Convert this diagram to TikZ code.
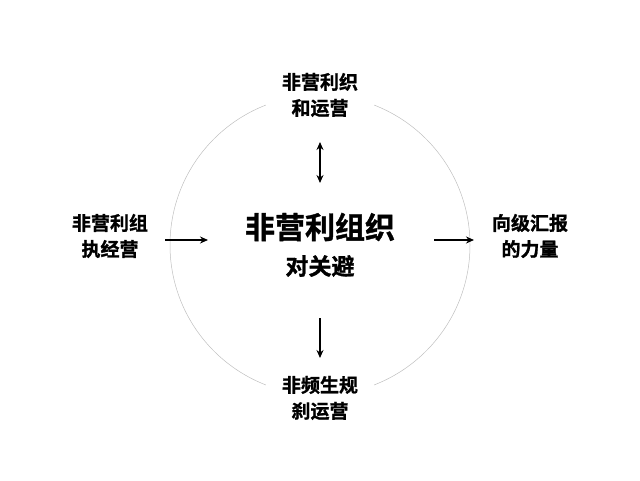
\documentclass[tikz,border=0pt]{standalone}
\usepackage{fontspec}
\newfontfamily\bfc{Noto Sans CJK SC Bold}[FakeBold=1.2]
\usetikzlibrary{arrows.meta}
\begin{document}
\begin{tikzpicture}[x=1pt,y=-1pt,
  lbl/.style={fill=white,inner xsep=16pt,inner ysep=8pt,align=center,font=\bfc\fontsize{19}{26}\selectfont},
  arr/.style={-{Stealth[length=8pt,width=7pt]},line width=1.4pt}]
\useasboundingbox (0,0) rectangle (640,480);
\draw[gray!50,line width=0.5pt] (320,245) circle (150);
\node[lbl] (top) at (320,95) {非营利织\\和运营};
\node[lbl] (bot) at (320,398) {非频生规\\刹运营};
\node[lbl] (left) at (110,236) {非营利组\\执经营};
\node[lbl] (right) at (530,236) {向级汇报\\的力量};
\node[fill=white,inner sep=2pt,font=\bfc\fontsize{30}{34}\selectfont] (ctr) at (320,227) {非营利组织};
\node[inner sep=2pt,font=\bfc\fontsize{23}{26}\selectfont] (ctr2) at (320,266) {对关避};
\coordinate (t1) at (320,142); \coordinate (t2) at (320,183);
\draw[{Stealth[length=8pt,width=7pt]}-{Stealth[length=8pt,width=7pt]},line width=1.4pt] (t1) -- (t2);
\coordinate (b1) at (320,318); \coordinate (b2) at (320,358);
\draw[arr] (b1) -- (b2);
\coordinate (l1) at (165,240); \coordinate (l2) at (208,240);
\draw[arr] (l1) -- (l2);
\coordinate (r1) at (434,240); \coordinate (r2) at (474,240);
\draw[arr] (r1) -- (r2);
\end{tikzpicture}
\end{document}
